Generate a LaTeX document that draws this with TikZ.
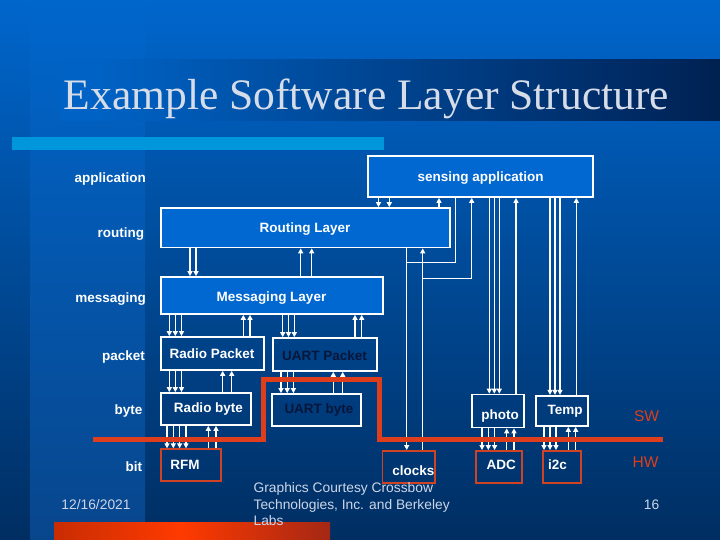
\documentclass[tikz,border=0pt]{standalone}
\usepackage{fontspec}
\setmainfont{Liberation Sans}
\newfontfamily\titlefont{Liberation Serif}
\usetikzlibrary{arrows.meta,fit}
\definecolor{bgtop}{RGB}{0,102,204}
\definecolor{bgbot}{RGB}{0,46,98}
\definecolor{bandbot}{RGB}{8,70,140}
\definecolor{boxfill}{RGB}{0,104,208}
\definecolor{cyanbar}{RGB}{0,150,220}
\definecolor{hwred}{RGB}{222,62,28}
\definecolor{boxred}{RGB}{208,66,36}
\definecolor{darktext}{RGB}{8,22,58}
\definecolor{foottext}{RGB}{205,214,232}
\definecolor{titletext}{RGB}{214,220,232}
\definecolor{tbandA}{RGB}{0,98,196}
\definecolor{tbandB}{RGB}{0,40,96}
\definecolor{obarA}{RGB}{140,30,5}
\definecolor{obarB}{RGB}{255,58,0}
\definecolor{obarC}{RGB}{80,22,40}
\pgfdeclarehorizontalshading{titleband}{100bp}{color(0bp)=(tbandA); color(28bp)=(tbandA); color(70bp)=(tbandB); color(100bp)=(black)}
\pgfdeclarehorizontalshading{orangebar}{100bp}{color(0bp)=(obarA); color(48bp)=(obarB); color(100bp)=(obarC)}
\newcommand\dnwire[3]{\draw[wire,-{Triangle[width=5pt,length=5pt]}] (#1.south -| #3,0) -- (#2.north -| #3,0);}
\newcommand\upwire[3]{\draw[wire,-{Triangle[width=5pt,length=5pt]}] (#2.north -| #3,0) -- (#1.south -| #3,0);}
\begin{document}
\begin{tikzpicture}[x=1pt,y=-1pt,
  wbox/.style={draw=white,line width=1.7pt,inner sep=0pt},
  fbox/.style={wbox,fill=boxfill},
  rbox/.style={draw=boxred,line width=1.9pt,inner sep=0pt},
  wire/.style={draw=white,line width=1.3pt},
  lbl/.style={text=white,font=\bfseries\fontsize{13.5}{16}\selectfont,inner sep=0pt},
  dlbl/.style={lbl,text=darktext},
  side/.style={lbl,anchor=base east},
  foot/.style={text=foottext,font=\fontsize{13.8}{16.7}\selectfont,inner sep=0pt},
  swhw/.style={text=hwred,font=\fontsize{15.5}{18}\selectfont,inner sep=0pt,anchor=base},
  redline/.style={draw=hwred,line width=5pt}]
\useasboundingbox (0,0) rectangle (720,540);
% background
\shade[top color=bgtop,bottom color=bgbot] (0,0) rectangle (720,540);
\shade[top color=bgtop,bottom color=bandbot] (30,0) rectangle (145,540);
% title band
\shade[shading=titleband] (60,60) rectangle (720,121);
\node[text=titletext,font=\titlefont\fontsize{43.5}{50}\selectfont,inner sep=0pt,anchor=base] (title) at (366.5,110) {Example Software Layer Structure};
\fill[cyanbar] (12,137.5) rectangle (384,150);
\shade[shading=orangebar] (54,522) rectangle (330,540);
% boxes
\node[fbox,fit={(368,156) (593,197)}] (sa) {};
\node[fbox,fit={(161,208) (450,247.5)}] (rl) {};
\node[fbox,fit={(161,277) (383,314)}] (ml) {};
\node[wbox,fit={(161,337) (264,370)}] (rp) {};
\node[wbox,fit={(272.7,338) (376.7,371)}] (up) {};
\node[wbox,fit={(161,393) (250.7,425)}] (rb) {};
\node[wbox,fit={(271.7,394) (361,426)}] (ub) {};
\node[wbox,fit={(471.7,394.5) (524.3,427.5)}] (ph) {};
\node[wbox,fit={(535.7,395.7) (588.3,426)}] (tmp) {};
\node[rbox,fit={(161,449.3) (221,481)}] (rfm) {};
\node[rbox,fit={(382.5,451) (435,483)}] (clk) {};
\node[rbox,fit={(476,451) (521.7,483)}] (adc) {};
\node[rbox,fit={(542.7,451) (581,483)}] (i2c) {};
% box labels
\node[lbl,anchor=base] (tsa) at (480.7,182) {sensing application};
\node[lbl,anchor=base] (trl) at (305,233) {Routing Layer};
\node[lbl,anchor=base] (tml) at (271.5,301) {Messaging Layer};
\node[lbl,anchor=base] (trp) at (212,358) {Radio Packet};
\node[dlbl,anchor=base] (tup) at (324.5,360) {UART Packet};
\node[lbl,anchor=base] (trb) at (208.5,412.5) {Radio byte};
\node[dlbl,anchor=base] (tub) at (319,413) {UART byte};
\node[lbl,anchor=base] (tph) at (500,419) {photo};
\node[lbl,anchor=base] (ttmp) at (565,414) {Temp};
\node[lbl,anchor=base] (trfm) at (185,469) {RFM};
\node[lbl,anchor=base] (tclk) at (413.3,475) {clocks};
\node[lbl,anchor=base] (tadc) at (501.3,469.5) {ADC};
\node[lbl,anchor=base] (ti2c) at (557.5,469.5) {i2c};
% side labels
\node[side] (lapp) at (146,183) {application};
\node[side] (lrout) at (144.3,237) {routing};
\node[side] (lmsg) at (146,302) {messaging};
\node[side] (lpkt) at (145,360) {packet};
\node[side] (lbyte) at (142.7,414.5) {byte};
\node[side] (lbit) at (142.3,471.5) {bit};
% wires
\dnwire{sa}{rl}{378.5}
\dnwire{sa}{rl}{389.3}
\upwire{sa}{rl}{439}
\dnwire{rl}{ml}{190}
\dnwire{rl}{ml}{196}
\upwire{rl}{ml}{300.7}
\upwire{rl}{ml}{311.7}
\dnwire{ml}{rp}{169.3}
\dnwire{ml}{rp}{175.3}
\dnwire{ml}{rp}{181.5}
\upwire{ml}{rp}{243.3}
\upwire{ml}{rp}{250}
\dnwire{ml}{up}{282.7}
\dnwire{ml}{up}{288.5}
\dnwire{ml}{up}{294.3}
\upwire{ml}{up}{355}
\upwire{ml}{up}{361.7}
\dnwire{rp}{rb}{169.3}
\dnwire{rp}{rb}{175.3}
\dnwire{rp}{rb}{181.5}
\upwire{rp}{rb}{222.7}
\upwire{rp}{rb}{231.7}
\dnwire{up}{ub}{281}
\dnwire{up}{ub}{287.2}
\dnwire{up}{ub}{293.4}
\upwire{up}{ub}{333.3}
\upwire{up}{ub}{342.7}
\dnwire{rb}{rfm}{167}
\dnwire{rb}{rfm}{173.3}
\dnwire{rb}{rfm}{179.6}
\dnwire{rb}{rfm}{186}
\upwire{rb}{rfm}{208.3}
\upwire{rb}{rfm}{216}
\dnwire{sa}{ph}{489.3}
\dnwire{sa}{ph}{494.3}
\dnwire{sa}{ph}{499.3}
\upwire{sa}{ph}{516}
\dnwire{sa}{tmp}{550}
\dnwire{sa}{tmp}{555}
\dnwire{sa}{tmp}{560}
\upwire{sa}{tmp}{576.3}
\dnwire{ph}{adc}{482}
\dnwire{ph}{adc}{488.3}
\dnwire{ph}{adc}{494.6}
\upwire{ph}{adc}{506.7}
\upwire{ph}{adc}{514}
\dnwire{tmp}{i2c}{544}
\dnwire{tmp}{i2c}{550}
\dnwire{tmp}{i2c}{556}
\upwire{tmp}{i2c}{568.3}
\upwire{tmp}{i2c}{575.7}
% clock wiring
\coordinate (j1) at (406.7,262.7);
\coordinate (j2) at (422.7,278.3);
\dnwire{rl}{clk}{406.7}
\draw[wire] (sa.south -| 455.7,0) |- (j1);
\upwire{rl}{clk}{422.7}
\draw[wire,-{Triangle[width=5pt,length=5pt]}] (j2) -| (sa.south -| 471.7,0);
% SW/HW boundary
\draw[redline] (93,439) -- (263,439) -- (263,379) -- (379,379) -- (379,439) -- (663,439);
\node[swhw] (sw) at (646.5,421.5) {SW};
\node[swhw] (hw) at (645.5,467.5) {HW};
% footer
\node[foot,anchor=base] (date) at (96,509) {12/16/2021};
\node[foot,anchor=base west] (cred1) at (253.4,492.7) {Graphics Courtesy Crossbow};
\node[foot,anchor=base west] (cred2) at (253.4,509) {Technologies, Inc. and Berkeley};
\node[foot,anchor=base west] (cred3) at (253.4,525.7) {Labs};
\node[foot,anchor=base] (pnum) at (651.5,509) {16};
\end{tikzpicture}
\end{document}
